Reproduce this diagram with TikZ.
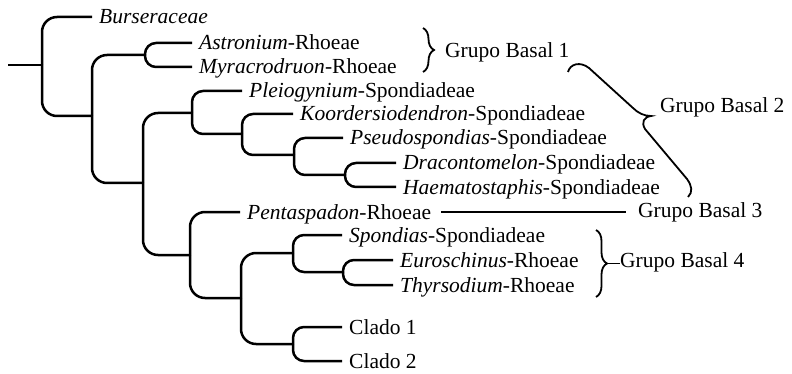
\documentclass[tikz,border=0pt]{standalone}
\usepackage{fontspec}
\setmainfont{Liberation Serif}
\usetikzlibrary{decorations.pathreplacing}
\begin{document}
\begin{tikzpicture}[x=1pt,y=-1pt,
  br/.style={line width=2.5pt, rounded corners=11pt},
  bigbr/.style={br, rounded corners=15pt},
  leaf/.style={anchor=base west, inner sep=0pt, xshift=7pt, yshift=-7pt, font=\fontsize{21.5}{24}\selectfont},
  grp/.style={anchor=west, inner sep=0pt, font=\fontsize{21.5}{24}\selectfont},
  conn/.style={line width=1.8pt},
  bracepath/.style={line width=1.8pt, decorate, decoration={brace, amplitude=11pt}}]
\useasboundingbox (0,0) rectangle (792,374);
% internal nodes
\coordinate (rs) at (8,65);
\coordinate (r0) at (42,65);
\coordinate (n1) at (92,116);
\coordinate (n2) at (145,55);
\coordinate (n3) at (143,183);
\coordinate (n4) at (192,113);
\coordinate (n5) at (242,134);
\coordinate (n6) at (294,155);
\coordinate (n7) at (345,175);
\coordinate (n8) at (190,255);
\coordinate (n9) at (241,298);
\coordinate (n10) at (293,253);
\coordinate (n11) at (343,272);
\coordinate (n12) at (293,344);
% leaf line ends
\coordinate (eBur) at (92,17);
\coordinate (eAst) at (192,43);
\coordinate (eMyr) at (192,67);
\coordinate (ePle) at (242,91);
\coordinate (eKoo) at (293,114);
\coordinate (ePse) at (343,138);
\coordinate (eDra) at (396,163);
\coordinate (eHae) at (396,187);
\coordinate (ePen) at (240,212);
\coordinate (eSpo) at (342,235);
\coordinate (eEur) at (393,260);
\coordinate (eThy) at (393,285);
\coordinate (eCl1) at (342,327);
\coordinate (eCl2) at (342,361);
% leaf labels
\node[leaf] (Bur) at (eBur) {\textit{Burseraceae}};
\node[leaf] (Ast) at (eAst) {\textit{Astronium}-Rhoeae};
\node[leaf] (Myr) at (eMyr) {\textit{Myracrodruon}-Rhoeae};
\node[leaf] (Ple) at (ePle) {\textit{Pleiogynium}-Spondiadeae};
\node[leaf] (Koo) at (eKoo) {\textit{Koordersiodendron}-Spondiadeae};
\node[leaf] (Pse) at (ePse) {\textit{Pseudospondias}-Spondiadeae};
\node[leaf] (Dra) at (eDra) {\textit{Dracontomelon}-Spondiadeae};
\node[leaf] (Hae) at (eHae) {\textit{Haematostaphis}-Spondiadeae};
\node[leaf] (Pen) at (ePen) {\textit{Pentaspadon}-Rhoeae};
\node[leaf] (Spo) at (eSpo) {\textit{Spondias}-Spondiadeae};
\node[leaf] (Eur) at (eEur) {\textit{Euroschinus}-Rhoeae};
\node[leaf] (Thy) at (eThy) {\textit{Thyrsodium}-Rhoeae};
\node[leaf] (Cl1) at (eCl1) {Clado 1};
\node[leaf] (Cl2) at (eCl2) {Clado 2};
% tree
\draw[br] (rs) -- (r0);
\draw[bigbr] (r0) |- (eBur);
\draw[bigbr] (r0) |- (n1);
\draw[bigbr] (n1) |- (n2);
\draw[bigbr] (n1) |- (n3);
\draw[br] (n2) |- (eAst);
\draw[br] (n2) |- (eMyr);
\draw[bigbr] (n3) |- (n4);
\draw[bigbr] (n3) |- (n8);
\draw[br] (n4) |- (ePle);
\draw[br] (n4) |- (n5);
\draw[br] (n5) |- (eKoo);
\draw[br] (n5) |- (n6);
\draw[br] (n6) |- (ePse);
\draw[br] (n6) |- (n7);
\draw[br] (n7) |- (eDra);
\draw[br] (n7) |- (eHae);
\draw[bigbr] (n8) |- (ePen);
\draw[bigbr] (n8) |- (n9);
\draw[bigbr] (n9) |- (n10);
\draw[bigbr] (n9) |- (n12);
\draw[br] (n10) |- (eSpo);
\draw[br] (n10) |- (n11);
\draw[br] (n11) |- (eEur);
\draw[br] (n11) |- (eThy);
\draw[br] (n12) |- (eCl1);
\draw[br] (n12) |- (eCl2);
% groups
\node[grp] (GB1) at (445,52) {Grupo Basal 1};
\node[grp] (GB2) at (660,107) {Grupo Basal 2};
\node[grp] (GB3) at (638,212) {Grupo Basal 3};
\node[grp] (GB4) at (620,262) {Grupo Basal 4};
% brace 1
\coordinate (b1a) at (423,28);
\coordinate (b1b) at (423,72);
\draw[bracepath] (b1a) -- (b1b);
% brace 2 (slanted)
\coordinate (b2s) at (568,72);
\coordinate (b2t) at (651,116);
\coordinate (b2e) at (688,197);
\draw[line width=1.8pt] (b2s) .. controls (570,64) and (580,61) .. (589,68) -- (633,108)
  .. controls (638,113) and (644,116) .. (b2t)
  .. controls (644,117) and (641,122) .. (645,129) -- (687,179)
  .. controls (692,186) and (693,192) .. (b2e);
% line to group 3
\draw[conn, shorten <=10pt, shorten >=12pt] (Pen.east |- ePen) -- (GB3.west |- ePen);
% brace 4
\coordinate (b4a) at (596,230);
\coordinate (b4b) at (596,297);
\coordinate (b4t) at (607,263.5);
\draw[bracepath] (b4a) -- (b4b);
\draw[conn] (b4t) -- (GB4.west |- b4t);
\end{tikzpicture}
\end{document}
